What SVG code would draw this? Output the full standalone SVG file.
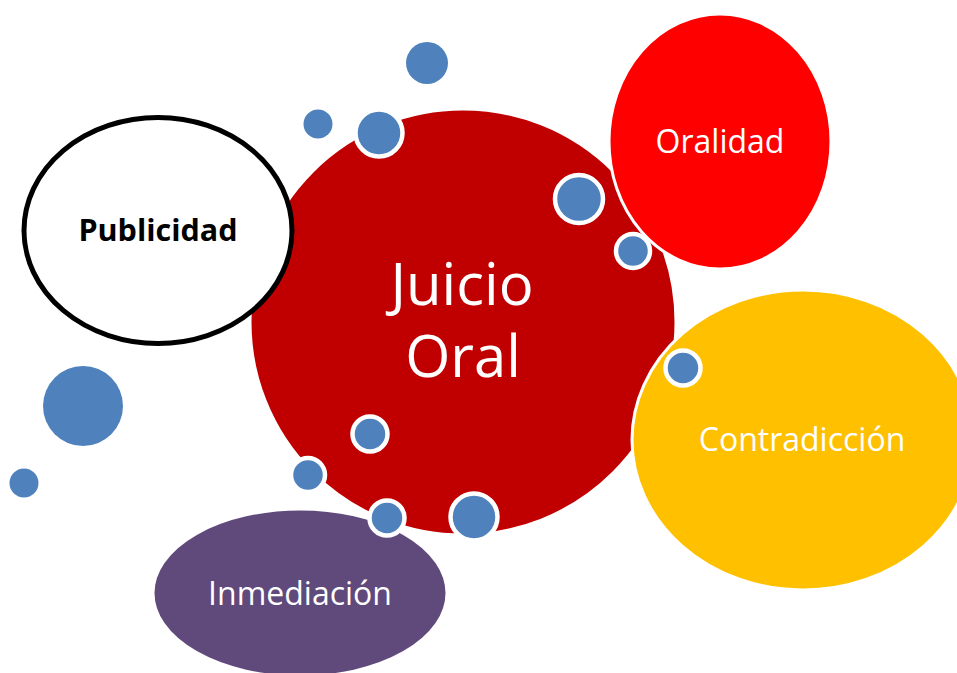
<svg xmlns="http://www.w3.org/2000/svg" width="957" height="673" viewBox="0 0 957 673">
<style>
.lbl{font-family:"Open Sans","Liberation Sans",sans-serif;fill:#fff;text-anchor:middle;font-size:32px}
.big{font-size:58px}
.pub{font-family:"Open Sans","Liberation Sans",sans-serif;fill:#000;text-anchor:middle;font-size:30.5px;font-weight:bold}
.shape{stroke:#fff;stroke-width:3}
.dot{fill:#4F81BD}
.dotw{fill:#4F81BD;stroke:#fff;stroke-width:4.5}
</style>
<rect width="957" height="673" fill="#fff"/>
<g id="juicio-oral">
<circle class="shape" cx="463" cy="322" r="213" fill="#C00000"/>
<text class="lbl big" x="462" y="305">Juicio</text>
<text class="lbl big" x="463" y="377">Oral</text>
</g>
<g id="oralidad">
<ellipse class="shape" cx="720" cy="141.5" rx="111" ry="127.5" fill="#FF0000"/>
<text class="lbl" x="720" y="153">Oralidad</text>
</g>
<g id="contradiccion">
<ellipse class="shape" cx="803" cy="440" rx="171" ry="150" fill="#FFC000"/>
<text class="lbl" x="802" y="451">Contradicción</text>
</g>
<g id="inmediacion">
<ellipse class="shape" cx="300" cy="593" rx="147" ry="84" fill="#604A7B"/>
<text class="lbl" x="300" y="605">Inmediación</text>
</g>
<g id="publicidad">
<ellipse cx="158" cy="230.5" rx="134" ry="113" fill="#fff" stroke="#000" stroke-width="5"/>
<text class="pub" x="158" y="241">Publicidad</text>
</g>
<g id="bubbles">
<circle class="dot" cx="427" cy="63" r="21"/>
<circle class="dot" cx="318" cy="124" r="14.5"/>
<circle class="dotw" cx="379" cy="133" r="23.5"/>
<circle class="dotw" cx="579" cy="199" r="24"/>
<circle class="dotw" cx="633" cy="251" r="17"/>
<circle class="dotw" cx="683" cy="368" r="17.5"/>
<circle class="dot" cx="83" cy="406" r="40"/>
<circle class="dot" cx="24" cy="483" r="14.5"/>
<circle class="dotw" cx="370" cy="434" r="17.5"/>
<circle class="dotw" cx="308" cy="475" r="17"/>
<circle class="dotw" cx="387" cy="518" r="17.5"/>
<circle class="dotw" cx="474" cy="517" r="23.5"/>
</g>
</svg>
